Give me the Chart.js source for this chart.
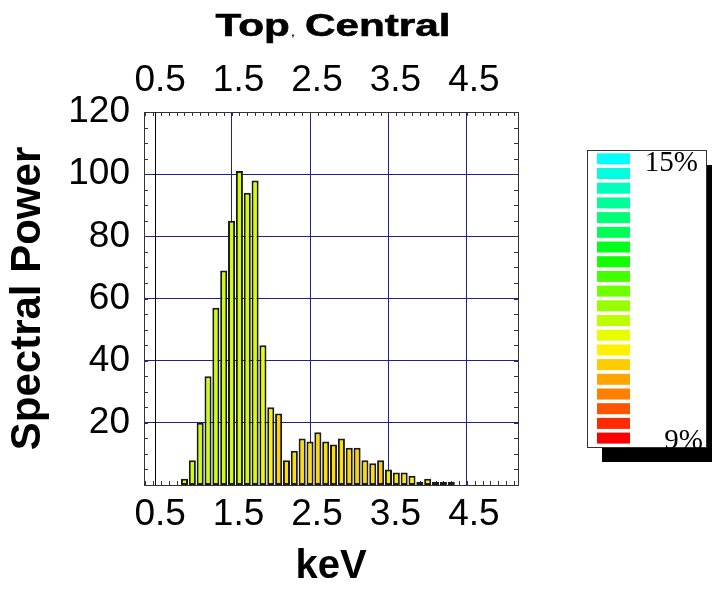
<!DOCTYPE html>
<html>
<head>
<meta charset="utf-8">
<script src="https://cdn.jsdelivr.net/npm/chart.js@4.4.1/dist/chart.umd.min.js"></script>
<style>
  html, body { margin: 0; padding: 0; background: #fff; }
  #c { display: block; }
</style>
</head>
<body>
<canvas id="c" width="712" height="591"></canvas>
<script>
// bin centres (keV) and spectral power
const energies = [0.9, 1.0, 1.1, 1.2, 1.3, 1.4, 1.5, 1.6, 1.7, 1.8,
  1.9, 2.0, 2.1, 2.2, 2.3, 2.4, 2.5, 2.6, 2.7, 2.8,
  2.9, 3.0, 3.1, 3.2, 3.3, 3.4, 3.5, 3.6, 3.7, 3.8,
  3.9, 4.0, 4.1, 4.2, 4.3];
const power = [2, 8, 20, 35, 57, 69, 85, 101, 94, 98,
  45, 25, 23, 8, 11, 15, 14, 17, 14, 13,
  15, 12, 12, 8, 7, 8, 5, 4, 4, 3,
  1, 2, 1, 1, 1];
const barColors = ['#d8ff00', '#ccff00', '#ccff00', '#ccff00', '#ccff00', '#ccff00', '#ccff00', '#ccff00', '#ccff00', '#d4ff00',
  '#e6ff00', '#f8f400', '#ffd200', '#ffdd00', '#ffdd00', '#ffdd00', '#ffdd00', '#ffd800', '#ffdd00', '#ffdd00',
  '#ffdd00', '#ffd400', '#ffd000', '#ffdd00', '#ffdd00', '#ffcc00', '#ffe400', '#ffe800', '#ffe800', '#fff000',
  '#f0f000', '#ffee00', '#e8f000', '#e8f000', '#e8f000'];

const xTickValues = [0.5, 1.5, 2.5, 3.5, 4.5];
const yTickValues = [20, 40, 60, 80, 100, 120];
const xMin = 0.384, xMax = 5.151;
const yMin = 0, yMax = 120;
const axisLineKeV = 0.53;

const legendColors = ['#00ffff', '#00ffe0', '#00ffbb', '#00ff99', '#00ff77', '#00ff55', '#00ff1a',
  '#11ff00', '#44ff00', '#6fff00', '#99ff00', '#bbff00', '#e6ff00', '#fff000',
  '#ffcc00', '#ffa500', '#ff7f00', '#ff5500', '#ff2a00', '#ff0000'];
const legendTop = '15%';
const legendBottom = '9%';

const titleParts = ['Top', ',', ' Central'];

const sans = "'Liberation Sans', Arial, sans-serif";
const serif = "'Liberation Serif', 'Times New Roman', serif";
const gridBlue = '#1f1f99';
const frame = '#333';

Chart.defaults.font.family = sans;
Chart.defaults.color = '#000';

const minorTicksPlugin = {
  id: 'minorTicks',
  beforeDatasetsDraw: chart => {
    const { ctx, chartArea: a, scales: { x, y } } = chart;
    ctx.save();
    ctx.strokeStyle = frame;
    ctx.lineWidth = 1;
    ctx.beginPath();
    for (let k = 4; k <= 51; k++) {
      const px = Math.round(x.getPixelForValue(k / 10)) + 0.5;
      ctx.moveTo(px, a.top); ctx.lineTo(px, a.top + 4);
      ctx.moveTo(px, a.bottom); ctx.lineTo(px, a.bottom - 4);
    }
    for (let v = 5; v < 120; v += 5) {
      const py = Math.round(y.getPixelForValue(v)) + 0.5;
      ctx.moveTo(a.left, py); ctx.lineTo(a.left + 4, py);
      ctx.moveTo(a.right, py); ctx.lineTo(a.right - 4, py);
    }
    ctx.stroke();
    // black axis line just right of 0.5 keV
    const lx = Math.round(x.getPixelForValue(axisLineKeV)) + 0.5;
    ctx.strokeStyle = '#000';
    ctx.beginPath();
    ctx.moveTo(lx, a.top); ctx.lineTo(lx, a.bottom);
    ctx.stroke();
    ctx.restore();
  }
};

const titlePlugin = {
  id: 'stretchedTitle',
  afterDraw: chart => {
    const { ctx, chartArea: a } = chart;
    ctx.save();
    const big = 'bold 32px ' + sans;
    const small = 'bold 9px ' + sans;
    ctx.font = big;
    const w0 = ctx.measureText(titleParts[0]).width;
    const w2 = ctx.measureText(titleParts[2]).width;
    ctx.font = small;
    const w1 = ctx.measureText(titleParts[1]).width;
    const sx = 1.32;
    const total = (w0 + w1 + w2) * sx;
    const cx = (a.left + a.right) / 2 + 2;
    ctx.translate(cx - total / 2, 36);
    ctx.scale(sx, 1);
    ctx.fillStyle = '#000';
    ctx.strokeStyle = '#000';
    ctx.lineWidth = 0.6;
    ctx.textBaseline = 'alphabetic';
    ctx.font = big;
    ctx.fillText(titleParts[0], 0, 0);
    ctx.strokeText(titleParts[0], 0, 0);
    ctx.font = small;
    ctx.fillText(titleParts[1], w0 + 1, 0);
    ctx.font = big;
    ctx.fillText(titleParts[2], w0 + w1, 0);
    ctx.strokeText(titleParts[2], w0 + w1, 0);
    ctx.restore();
  }
};

const colorBarPlugin = {
  id: 'colorBar',
  afterDraw: chart => {
    const ctx = chart.ctx;
    const bx = 587, by = 150, bw = 119, bh = 297, shadow = 15;
    ctx.save();
    ctx.fillStyle = '#000';
    ctx.fillRect(bx + shadow, by + shadow, bw, bh);
    ctx.fillStyle = '#fff';
    ctx.fillRect(bx, by, bw, bh);
    ctx.strokeStyle = frame;
    ctx.lineWidth = 1;
    ctx.strokeRect(bx + 0.5, by + 0.5, bw, bh);
    const pitch = 14.7;
    legendColors.forEach((col, i) => {
      ctx.fillStyle = col;
      ctx.fillRect(bx + 10, by + 3.3 + i * pitch, 33, 11);
    });
    ctx.fillStyle = '#000';
    ctx.font = '29px ' + serif;
    ctx.textAlign = 'right';
    ctx.textBaseline = 'alphabetic';
    ctx.fillText(legendTop, 698, 171);
    ctx.fillText(legendBottom, 703, 449);
    ctx.restore();
  }
};

const tickFont = { size: 37, family: sans };

new Chart(document.getElementById('c'), {
  type: 'bar',
  data: {
    datasets: [{
      data: energies.map((e, i) => ({ x: e, y: power[i] })),
      backgroundColor: barColors,
      borderColor: '#1a1a1a',
      borderWidth: 2,
      borderSkipped: false,
      barPercentage: 0.9,
      categoryPercentage: 1,
      xAxisID: 'x',
      yAxisID: 'y'
    }]
  },
  options: {
    responsive: false,
    animation: false,
    devicePixelRatio: 1,
    layout: { padding: { left: 0, right: 194, top: 0, bottom: 0 } },
    scales: {
      x: {
        type: 'linear',
        position: 'bottom',
        min: xMin,
        max: xMax,
        offset: false,
        afterBuildTicks: s => { s.ticks = xTickValues.map(v => ({ value: v })); },
        afterFit: s => { s.height = 106; },
        ticks: {
          font: tickFont,
          color: '#000',
          padding: 8,
          labelOffset: 7,
          maxRotation: 0,
          autoSkip: false,
          callback: v => v.toFixed(1)
        },
        grid: {
          offset: false,
          color: c => (c.tick && c.tick.value === 0.5 ? 'rgba(0,0,0,0)' : gridBlue),
          lineWidth: 1,
          drawTicks: false
        },
        border: { display: true, color: frame, width: 1 },
        title: {
          display: true,
          text: 'keV',
          color: '#000',
          font: { size: 40, weight: 'bold', family: sans },
          padding: { top: 0, bottom: 0 }
        }
      },
      x2: {
        type: 'linear',
        position: 'top',
        min: xMin,
        max: xMax,
        offset: false,
        afterBuildTicks: s => { s.ticks = xTickValues.map(v => ({ value: v })); },
        afterFit: s => { s.height = 112; },
        ticks: {
          font: tickFont,
          color: '#000',
          padding: 9,
          labelOffset: 7,
          maxRotation: 0,
          autoSkip: false,
          callback: v => v.toFixed(1)
        },
        grid: { offset: false, drawOnChartArea: false, drawTicks: false },
        border: { display: true, color: frame, width: 1 }
      },
      y: {
        type: 'linear',
        position: 'left',
        min: yMin,
        max: yMax,
        afterBuildTicks: s => { s.ticks = yTickValues.map(v => ({ value: v })); },
        afterFit: s => { s.width = 144; },
        ticks: {
          font: tickFont,
          color: '#000',
          padding: 14,
          autoSkip: false
        },
        grid: {
          color: c => (c.tick && c.tick.value === 120 ? 'rgba(0,0,0,0)' : gridBlue),
          lineWidth: 1,
          drawTicks: false
        },
        border: { display: true, color: frame, width: 1 },
        title: {
          display: true,
          text: 'Spectral Power',
          color: '#000',
          font: { size: 42, weight: 'bold', family: sans },
          padding: { top: 3, bottom: 0 }
        }
      },
      y2: {
        type: 'linear',
        position: 'right',
        min: yMin,
        max: yMax,
        afterFit: s => { s.width = 0; },
        ticks: { display: false },
        grid: { drawOnChartArea: false, drawTicks: false },
        border: { display: true, color: frame, width: 1 }
      }
    },
    plugins: {
      legend: { display: false },
      tooltip: { enabled: false },
      title: { display: false }
    }
  },
  plugins: [minorTicksPlugin, titlePlugin, colorBarPlugin]
});
</script>
</body>
</html>
